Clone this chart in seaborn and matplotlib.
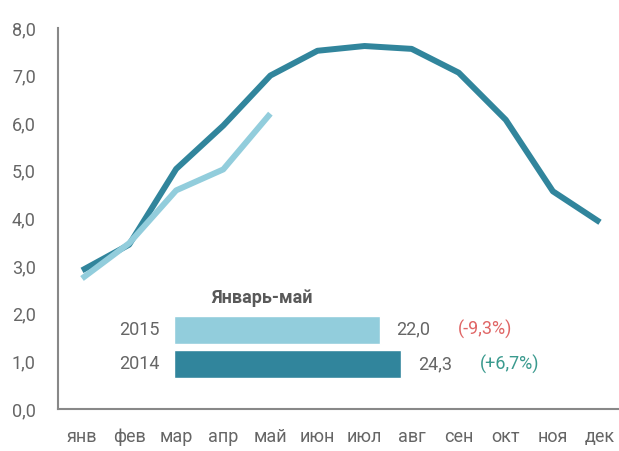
import numpy as np
import pandas as pd
import matplotlib
matplotlib.use('Agg')
import matplotlib.pyplot as plt
import seaborn as sns

# monthly values
months = ['янв', 'фев', 'мар', 'апр', 'май', 'июн', 'июл', 'авг', 'сен', 'окт', 'ноя', 'дек']
vals_2014 = [2.91, 3.45, 5.04, 5.95, 7.0, 7.52, 7.62, 7.56, 7.06, 6.07, 4.57, 3.92]
vals_2015 = [2.74, 3.48, 4.59, 5.03, 6.2]

# inset: January-May totals
inset_years = ['2015', '2014']
inset_totals = [22.0, 24.3]
inset_totals_txt = ['22,0', '24,3']
inset_change = ['(-9,3%)', '(+6,7%)']

dark = '#31859C'
light = '#92CDDC'
grey = '#666666'

sns.set_style('white')
plt.rcParams['font.family'] = ['Roboto', 'DejaVu Sans']

df = pd.concat([
    pd.DataFrame({'pos': np.arange(len(vals_2014)), 'value': vals_2014, 'year': '2014'}),
    pd.DataFrame({'pos': np.arange(len(vals_2015)), 'value': vals_2015, 'year': '2015'}),
])

fig = plt.figure(figsize=(6.19, 4.51), dpi=100)
ax = fig.add_axes([0.0937, 0.0931, 0.906, 0.845])

sns.lineplot(data=df, x='pos', y='value', hue='year', palette={'2014': dark, '2015': light},
             hue_order=['2014', '2015'], linewidth=4.3, sort=False, legend=False, ax=ax,
             solid_capstyle='butt')

ax.set_xlim(-0.51, 11.4)
ax.set_ylim(0, 8)
ax.set_xticks(np.arange(len(months)))
ax.set_xticklabels(months)
yt = np.arange(0, 9)
ax.set_yticks(yt)
ax.set_yticklabels([f'{v:.1f}'.replace('.', ',') for v in yt])
ax.tick_params(axis='both', colors=grey, labelsize=13, length=0)
ax.tick_params(axis='y', pad=16)
ax.tick_params(axis='x', pad=14)
ax.set_xlabel('')
ax.set_ylabel('')
for s in ['top', 'right']:
    ax.spines[s].set_visible(False)
for s in ['left', 'bottom']:
    ax.spines[s].set_color('#888888')
    ax.spines[s].set_linewidth(1.5)

# inset bars
iax = fig.add_axes([0.281, 0.154, 0.453, 0.153])
sns.barplot(x=inset_totals, y=inset_years, hue=inset_years, palette=[light, dark],
            orient='h', width=0.8, saturation=1, legend=False, ax=iax)
iax.set_xlim(0, 30)
iax.set_ylim(1.5, -0.5)
iax.axis('off')
for i, (v, t, c) in enumerate(zip(inset_totals, inset_totals_txt, inset_change)):
    iax.text(-1.5, i, inset_years[i], ha='right', va='center', fontsize=13, color=grey)
    iax.text(v + 1.8, i, t, ha='left', va='center', fontsize=13, color=grey)
    iax.text(v + 8.4, i, c, ha='left', va='center', fontsize=13,
             color='#E06666' if i == 0 else '#3A9A8E')

fig.text(211 / 619, (451 - 298) / 451, 'Январь-май', ha='left', va='center',
         fontsize=13, fontweight='bold', color='#595959')

fig.savefig('out.png', dpi=100)
